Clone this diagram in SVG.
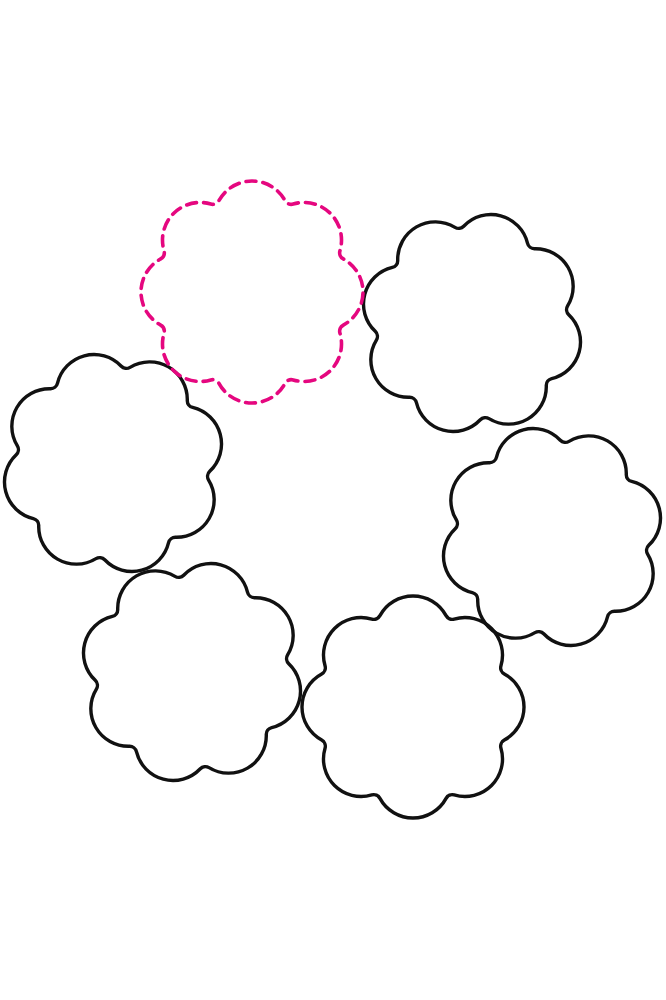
<svg xmlns="http://www.w3.org/2000/svg" xmlns:xlink="http://www.w3.org/1999/xlink" width="666" height="1000" viewBox="0 0 666 1000">
<style>
.solid{fill:none;stroke:#111;stroke-width:3.4;stroke-linejoin:round}
.dashed{fill:none;stroke:#e5077f;stroke-width:3.6;stroke-dasharray:10 7;stroke-linecap:round}
</style>
<defs>
<path id="flower" d="M 91.32 33.06 A 7 7 0 0 0 87.95 41.2 A 37.6 37.6 0 0 1 41.2 87.95 A 7 7 0 0 0 33.06 91.32 A 37.6 37.6 0 0 1 -33.06 91.32 A 7 7 0 0 0 -41.2 87.95 A 37.6 37.6 0 0 1 -87.95 41.2 A 7 7 0 0 0 -91.32 33.06 A 37.6 37.6 0 0 1 -91.32 -33.06 A 7 7 0 0 0 -87.95 -41.2 A 37.6 37.6 0 0 1 -41.2 -87.95 A 7 7 0 0 0 -33.06 -91.32 A 37.6 37.6 0 0 1 33.06 -91.32 A 7 7 0 0 0 41.2 -87.95 A 37.6 37.6 0 0 1 87.95 -41.2 A 7 7 0 0 0 91.32 -33.06 A 37.6 37.6 0 0 1 91.32 33.06 Z"/>
</defs>
<rect width="666" height="1000" fill="#fff"/>
<g id="flower-top-right" class="solid" transform="translate(472 323) rotate(15)"><use xlink:href="#flower" href="#flower"/></g>
<g id="flower-right" class="solid" transform="translate(552 537) rotate(30)"><use xlink:href="#flower" href="#flower"/></g>
<g id="flower-bottom" class="solid" transform="translate(413 707)"><use xlink:href="#flower" href="#flower"/></g>
<g id="flower-bottom-left" class="solid" transform="translate(192 672) rotate(15)"><use xlink:href="#flower" href="#flower"/></g>
<g id="flower-left" class="solid" transform="translate(113 463) rotate(30)"><use xlink:href="#flower" href="#flower"/></g>
<g id="flower-top-dashed" class="dashed" transform="translate(252 292)"><use xlink:href="#flower" href="#flower"/></g>
<g id="connectors"></g>
</svg>
